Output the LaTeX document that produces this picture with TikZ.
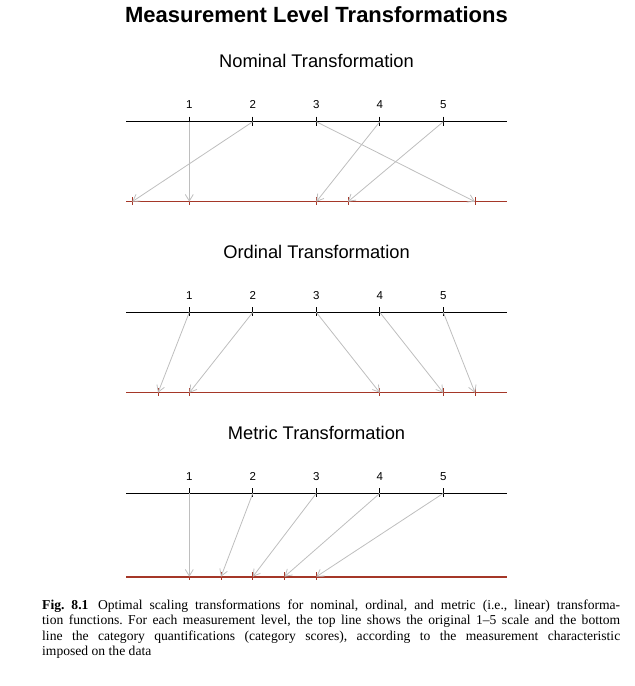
\documentclass[tikz,border=0pt]{standalone}
\usepackage{fontspec}
\setmainfont{Liberation Serif}
\setsansfont{Liberation Sans}
\usepackage{tikz}
\usetikzlibrary{positioning}
\usetikzlibrary{arrows.meta}
\definecolor{scorered}{RGB}{165,55,40}
\definecolor{mapgray}{RGB}{190,190,190}

\begin{document}
\begin{tikzpicture}[x=1bp,y=-1bp,
  heading/.style={font=\sffamily\fontsize{18.3bp}{22bp}\selectfont,anchor=base},
  catlabel/.style={font=\sffamily\fontsize{11.5bp}{13bp}\selectfont,inner sep=0},
  scaleline/.style={line width=1.3bp},
  quantline/.style={color=scorered,line width=1.5bp},
  tick/.style={line width=1bp},
  qtick/.style={color=scorered,line width=1bp},
  map/.style={-{Straight Barb[length=6.5bp,width=8bp]},color=mapgray,line width=0.8bp}]
\useasboundingbox (0,0) rectangle (635,686);

\node(title)[anchor=base,font=\sffamily\bfseries\fontsize{22bp}{26bp}\selectfont] at (316.5,23) {Measurement Level Transformations};

% nominal
\node(nom)[heading] at (316.5,67.5) {Nominal Transformation};
\coordinate(nl) at (126,121.7); \coordinate(nr) at (507,121.7);
\coordinate(n1) at (189.3,121.7); \coordinate(n2) at (252.8,121.7); \coordinate(n3) at (316.3,121.7);
\coordinate(n4) at (379.8,121.7); \coordinate(n5) at (443.3,121.7);
\coordinate(Nl) at (126,201.7); \coordinate(Nr) at (507,201.7);
\coordinate(N1) at (189.3,201.7); \coordinate(N2) at (132.2,201.7); \coordinate(N3) at (475,201.7);
\coordinate(N4) at (316.3,201.7); \coordinate(N5) at (348,201.7);
\node(na)[catlabel, above=12.7bp of n1] {1};
\node(nb)[catlabel, above=12.7bp of n2] {2};
\node(nc)[catlabel, above=12.7bp of n3] {3};
\node(nd)[catlabel, above=12.7bp of n4] {4};
\node(ne)[catlabel, above=12.7bp of n5] {5};
\draw[scaleline] (nl)--(nr);
\draw[quantline] (Nl)--(Nr);
\draw[tick] ([yshift=5bp]n1)--([yshift=-4bp]n1) ([yshift=5bp]n2)--([yshift=-4bp]n2) ([yshift=5bp]n3)--([yshift=-4bp]n3)
  ([yshift=5bp]n4)--([yshift=-4bp]n4) ([yshift=5bp]n5)--([yshift=-4bp]n5);
\draw[qtick] ([yshift=4.5bp]N1)--([yshift=-3.5bp]N1) ([yshift=4.5bp]N2)--([yshift=-3.5bp]N2) ([yshift=4.5bp]N3)--([yshift=-3.5bp]N3)
  ([yshift=4.5bp]N4)--([yshift=-3.5bp]N4) ([yshift=4.5bp]N5)--([yshift=-3.5bp]N5);
\draw[map] (n1)--(N1);
\draw[map] (n2)--(N2);
\draw[map] (n3)--(N3);
\draw[map] (n4)--(N4);
\draw[map] (n5)--(N5);

% ordinal
\node(ord)[heading] at (316.5,258.3) {Ordinal Transformation};
\coordinate(ol) at (126,312.3); \coordinate(or) at (507,312.3);
\coordinate(o1) at (189.3,312.3); \coordinate(o2) at (252.8,312.3); \coordinate(o3) at (316.3,312.3);
\coordinate(o4) at (379.8,312.3); \coordinate(o5) at (443.3,312.3);
\coordinate(Ol) at (126,392.7); \coordinate(Or) at (507,392.7);
\coordinate(O1) at (158,392.7); \coordinate(O2) at (189.3,392.7); \coordinate(O3) at (379.8,392.7);
\coordinate(O4) at (443.3,392.7); \coordinate(O5) at (475,392.7);
\node(oa)[catlabel, above=12.7bp of o1] {1};
\node(ob)[catlabel, above=12.7bp of o2] {2};
\node(oc)[catlabel, above=12.7bp of o3] {3};
\node(od)[catlabel, above=12.7bp of o4] {4};
\node(oe)[catlabel, above=12.7bp of o5] {5};
\draw[scaleline] (ol)--(or);
\draw[quantline] (Ol)--(Or);
\draw[tick] ([yshift=5bp]o1)--([yshift=-4bp]o1) ([yshift=5bp]o2)--([yshift=-4bp]o2) ([yshift=5bp]o3)--([yshift=-4bp]o3)
  ([yshift=5bp]o4)--([yshift=-4bp]o4) ([yshift=5bp]o5)--([yshift=-4bp]o5);
\draw[qtick] ([yshift=4.5bp]O1)--([yshift=-3.5bp]O1) ([yshift=4.5bp]O2)--([yshift=-3.5bp]O2) ([yshift=4.5bp]O3)--([yshift=-3.5bp]O3)
  ([yshift=4.5bp]O4)--([yshift=-3.5bp]O4) ([yshift=4.5bp]O5)--([yshift=-3.5bp]O5);
\draw[map] (o1)--(O1);
\draw[map] (o2)--(O2);
\draw[map] (o3)--(O3);
\draw[map] (o4)--(O4);
\draw[map] (o5)--(O5);

% metric
\node(met)[heading] at (316.5,439.3) {Metric Transformation};
\coordinate(ml) at (126,493.3); \coordinate(mr) at (507,493.3);
\coordinate(m1) at (189.3,493.3); \coordinate(m2) at (252.8,493.3); \coordinate(m3) at (316.3,493.3);
\coordinate(m4) at (379.8,493.3); \coordinate(m5) at (443.3,493.3);
\coordinate(Ml) at (126,576.7); \coordinate(Mr) at (507,576.7);
\coordinate(M1) at (189.3,576.7); \coordinate(M2) at (221,576.7); \coordinate(M3) at (252.8,576.7);
\coordinate(M4) at (284.5,576.7); \coordinate(M5) at (316.3,576.7);
\node(ma)[catlabel, above=12.7bp of m1] {1};
\node(mb)[catlabel, above=12.7bp of m2] {2};
\node(mc)[catlabel, above=12.7bp of m3] {3};
\node(md)[catlabel, above=12.7bp of m4] {4};
\node(me)[catlabel, above=12.7bp of m5] {5};
\draw[scaleline] (ml)--(mr);
\draw[quantline,line width=2bp] (Ml)--(Mr);
\draw[tick] ([yshift=5bp]m1)--([yshift=-4bp]m1) ([yshift=5bp]m2)--([yshift=-4bp]m2) ([yshift=5bp]m3)--([yshift=-4bp]m3)
  ([yshift=5bp]m4)--([yshift=-4bp]m4) ([yshift=5bp]m5)--([yshift=-4bp]m5);
\draw[qtick] ([yshift=4.5bp]M1)--([yshift=-3.5bp]M1) ([yshift=4.5bp]M2)--([yshift=-3.5bp]M2) ([yshift=4.5bp]M3)--([yshift=-3.5bp]M3)
  ([yshift=4.5bp]M4)--([yshift=-3.5bp]M4) ([yshift=4.5bp]M5)--([yshift=-3.5bp]M5);
\draw[map] (m1)--(M1);
\draw[map] (m2)--(M2);
\draw[map] (m3)--(M3);
\draw[map] (m4)--(M4);
\draw[map] (m5)--(M5);

\node(caption)[anchor=base west,inner sep=0] at (42,609) {\parbox[t]{578bp}{\fontsize{13.6bp}{15.5bp}\selectfont\frenchspacing
\textbf{Fig.~8.1}\hspace{0.7em}Optimal scaling transformations for nominal, ordinal, and metric (i.e., linear) transforma-\linebreak
tion functions. For each measurement level, the top line shows the original 1--5 scale and the bottom\linebreak
line the category quantifications (category scores), according to the measurement characteristic\linebreak
imposed on the data}};
\end{tikzpicture}
\end{document}
